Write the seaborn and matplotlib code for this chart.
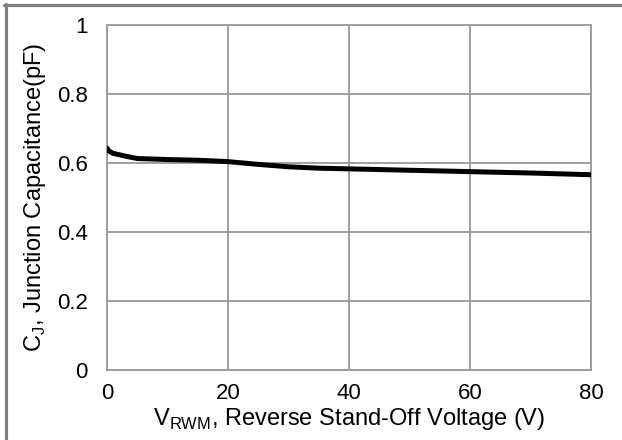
import matplotlib
matplotlib.use("Agg")
import matplotlib.pyplot as plt
import seaborn as sns
import pandas as pd
from matplotlib.lines import Line2D

voltage = [0, 0.3, 1, 2, 3, 5, 10, 15, 20, 25, 30, 35, 40, 50, 60, 70, 80]
capacitance = [0.643, 0.635, 0.628, 0.624, 0.620, 0.613, 0.610, 0.608, 0.604, 0.596, 0.589, 0.585, 0.583, 0.579, 0.575, 0.571, 0.566]
x_ticks = [0, 20, 40, 60, 80]
y_ticks = [0, 0.2, 0.4, 0.6, 0.8, 1]
y_tick_labels = ["0", "0.2", "0.4", "0.6", "0.8", "1"]

sns.set_theme(style="white")
plt.rcParams['font.family'] = ['Liberation Sans', 'DejaVu Sans']
plt.rcParams['mathtext.fontset'] = 'custom'
plt.rcParams['mathtext.rm'] = 'Liberation Sans'

df = pd.DataFrame({"V": voltage, "C": capacitance})

fig = plt.figure(figsize=(6.22, 4.40), dpi=100)
ax = fig.add_axes([107/622, 1 - 370/440, (591-107)/622, (370-25)/440])

sns.lineplot(data=df, x="V", y="C", ax=ax, color="black", linewidth=3.6, zorder=5)

ax.set_xlim(0, 80)
ax.set_ylim(0, 1)
ax.set_xticks(x_ticks)
ax.set_yticks(y_ticks)
ax.set_yticklabels(y_tick_labels)
ax.grid(True, color="#999999", linewidth=1.3)
for s in ax.spines.values():
    s.set_color("#999999")
    s.set_linewidth(1.3)
ax.tick_params(axis="both", length=0, labelsize=16, colors="black")
ax.tick_params(axis="y", pad=14)
ax.tick_params(axis="x", pad=9)

ax.set_xlabel(r"V$_\mathregular{RWM}$, Reverse Stand-Off Voltage (V)", fontsize=17, labelpad=2, color="black")
ax.set_ylabel(r"C$_\mathregular{J}$, Junction Capacitance(pF)", fontsize=17, labelpad=6, color="black")

# outer gray frame (top and left)
fig.add_artist(Line2D([4/622, 1], [1 - 5.5/440, 1 - 5.5/440], transform=fig.transFigure, color="#808080", linewidth=2.3))
fig.add_artist(Line2D([5.5/622, 5.5/622], [0, 1 - 4/440], transform=fig.transFigure, color="#808080", linewidth=2.3))

fig.savefig("out.png", dpi=100, facecolor="white")
